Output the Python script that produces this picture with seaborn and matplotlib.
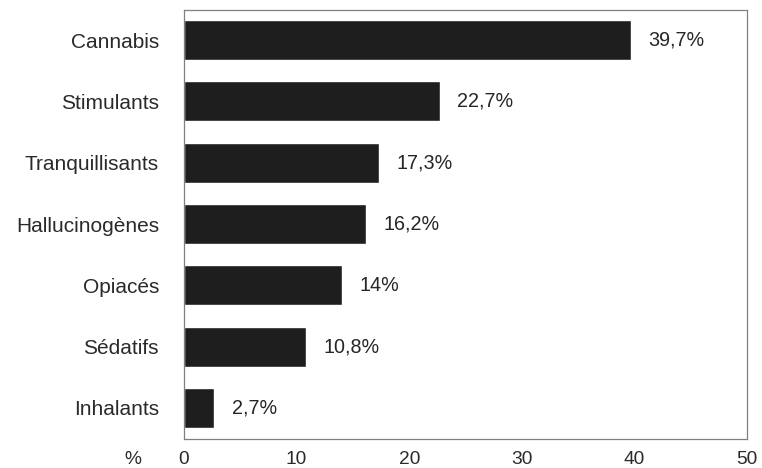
import matplotlib
matplotlib.use("Agg")
import matplotlib.pyplot as plt
import seaborn as sns
import pandas as pd

categories = ["Cannabis", "Stimulants", "Tranquillisants", "Hallucinogènes",
              "Opiacés", "Sédatifs", "Inhalants"]
values = [39.7, 22.7, 17.3, 16.2, 14.0, 10.8, 2.7]
value_labels = ["39,7%", "22,7%", "17,3%", "16,2%", "14%", "10,8%", "2,7%"]
x_ticks = [0, 10, 20, 30, 40, 50]

sns.set_theme(style="white")
plt.rcParams["font.family"] = ["Liberation Sans", "DejaVu Sans"]

df = pd.DataFrame({"cat": categories, "val": values})

fig = plt.figure(figsize=(7.62, 4.68), dpi=100)
ax = fig.add_axes([0.2415, 0.062, 0.7388, 0.9165])

sns.barplot(data=df, x="val", y="cat", color="#1e1e1e", saturation=1,
            width=0.655, orient="h", ax=ax)

# value annotations to the right of each bar
for i, (v, lab) in enumerate(zip(values, value_labels)):
    ax.text(v + 1.55, i, lab, va="center", ha="left", fontsize=14.2, color="#262626")

ax.set_xlim(0, 50)
ax.set_ylim(6.507, -0.49)
ax.set_xticks(x_ticks)
ax.set_xticklabels([str(t) for t in x_ticks], fontsize=13.8, color="#2a2a2a")
ax.tick_params(axis="x", direction="in", length=3, width=0.6, color="#888888", pad=9)
ax.tick_params(axis="y", length=0, pad=18, labelsize=15, labelcolor="#2a2a2a")
ax.set_xlabel("")
ax.set_ylabel("")
for s in ax.spines.values():
    s.set_visible(True)
    s.set_color("#808080")
    s.set_linewidth(0.9)

fig.text(133 / 762, 1 - 459 / 468, "%", fontsize=13.8, color="#2a2a2a",
         ha="center", va="center")

fig.savefig("out.png", dpi=100)
